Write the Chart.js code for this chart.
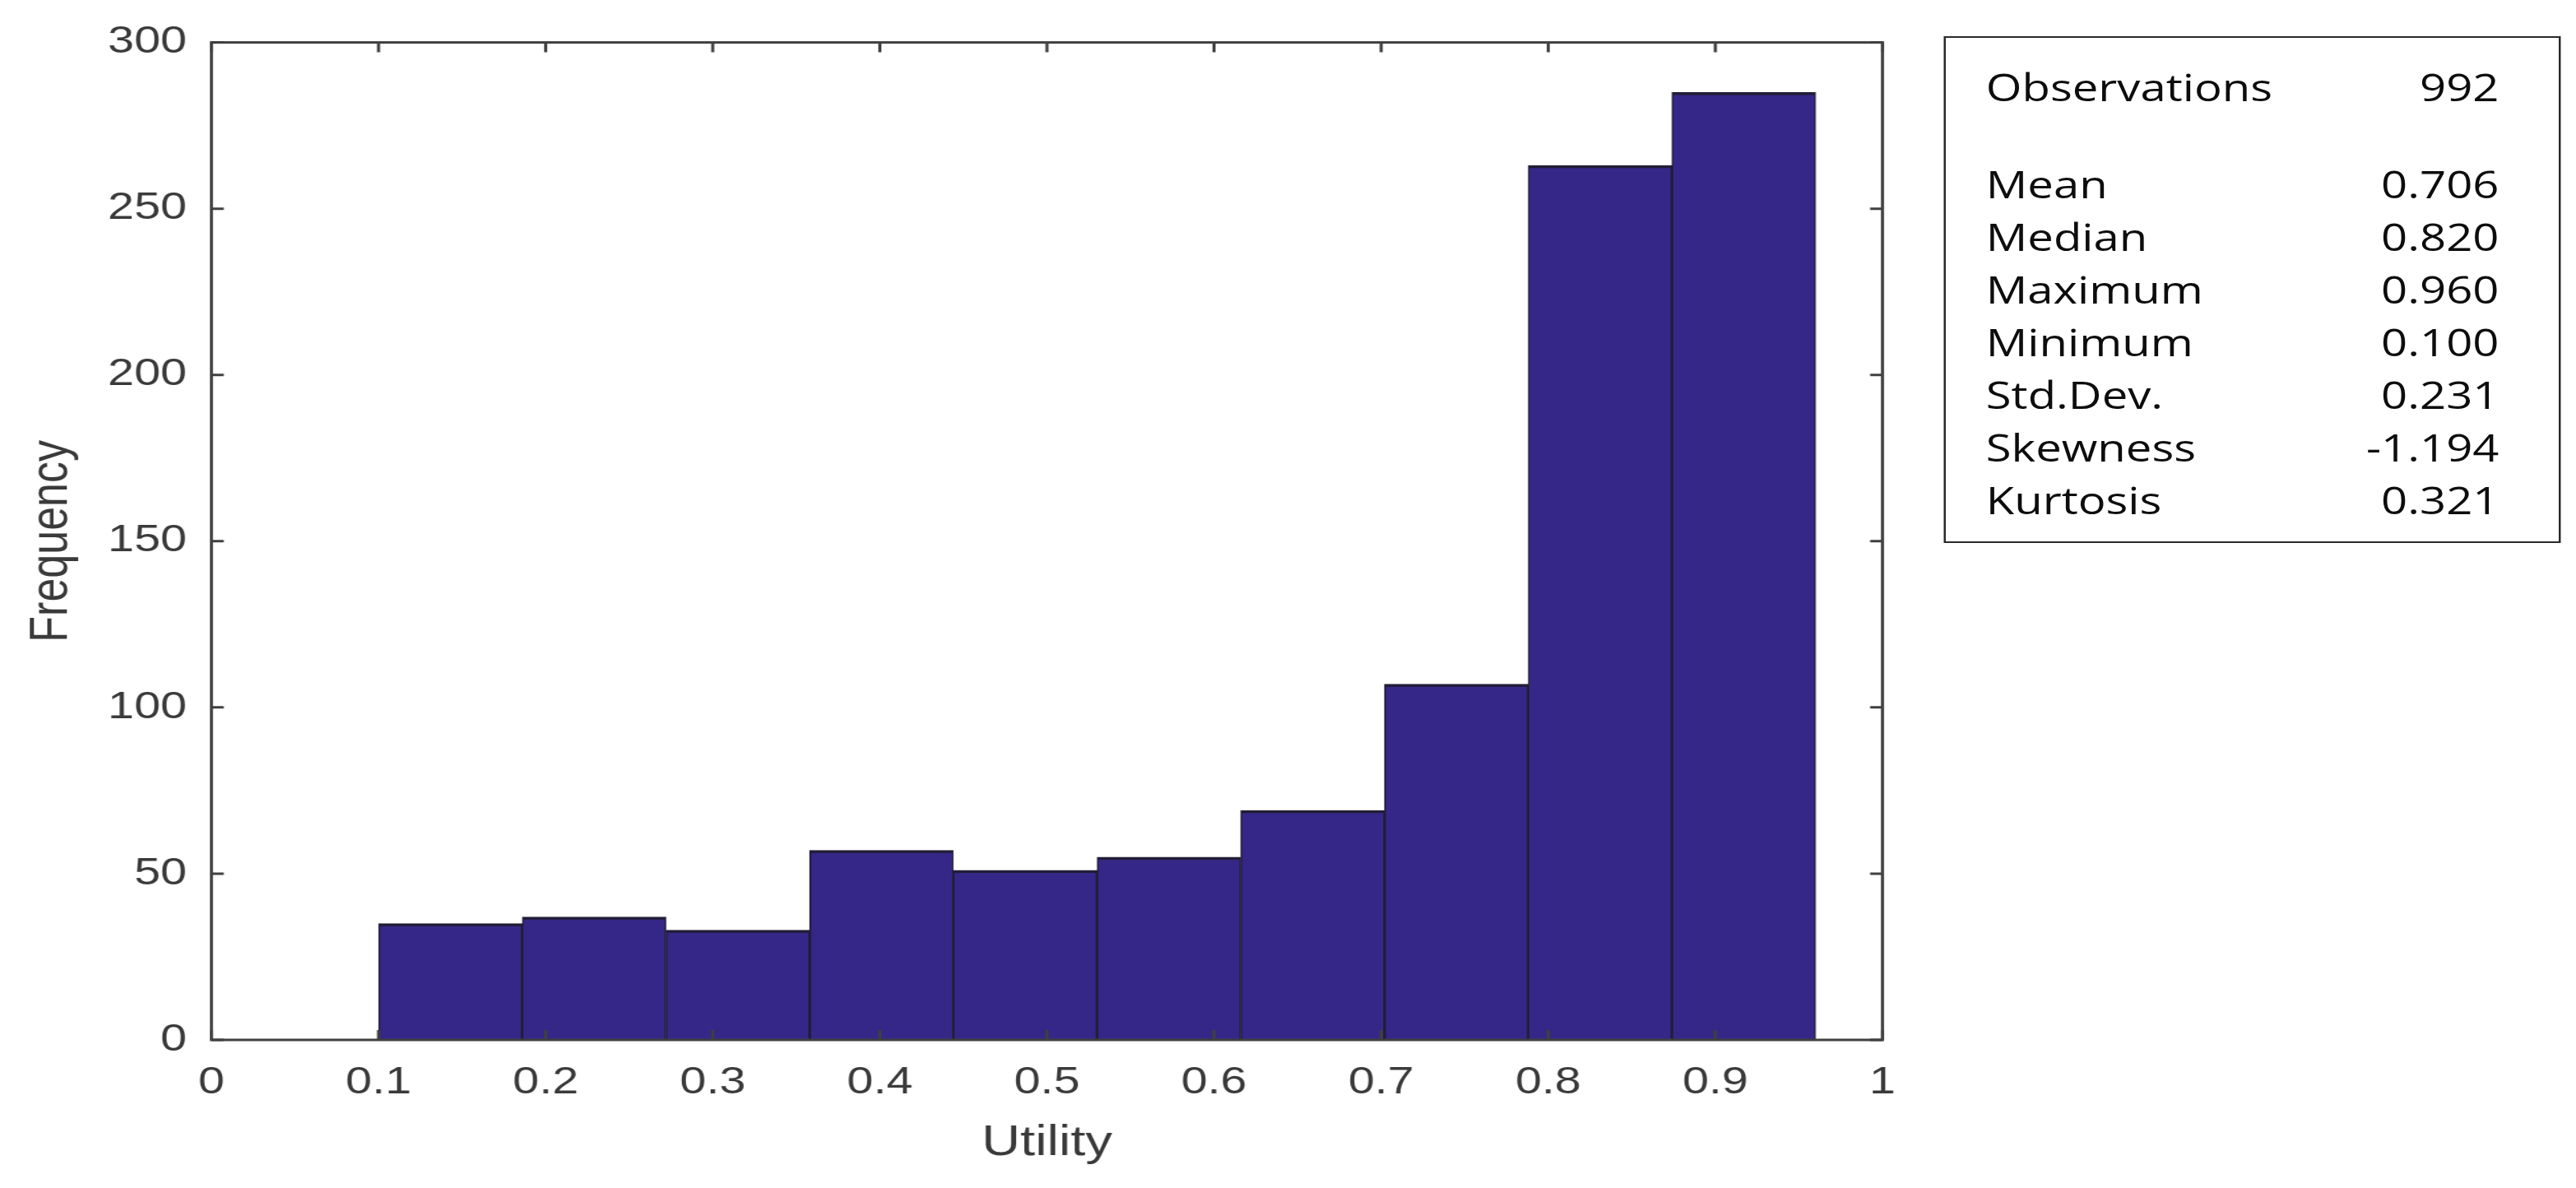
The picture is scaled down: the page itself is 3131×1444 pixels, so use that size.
<!DOCTYPE html>
<html>
<head>
<meta charset="utf-8">
<title>Utility histogram</title>
<script src="https://cdn.jsdelivr.net/npm/chart.js@4.4.1/dist/chart.umd.min.js"></script>
<style>
  html, body { margin: 0; padding: 0; background: #fff; overflow: hidden; }
  /* the source figure is stretched sideways, so the whole stage is too */
  #stage { position: absolute; left: 0; top: 0; width: 2505px; height: 1444px; transform: scaleX(1.25); transform-origin: 0 0; }
  #chart { position: absolute; left: 0; top: 0; width: 1880px; height: 1444px; }
  .stats {
    position: absolute; left: 1890px; top: 44px; width: 600px; height: 616px;
    box-sizing: border-box; border: 2px solid #2a2a2a; background: #fff;
    padding: 28px 58px 0 39px;
    font-family: 'Open Sans', sans-serif; font-size: 45px; color: #0d0d0d;
  }
  .stats .row { display: flex; justify-content: space-between; height: 64px; line-height: 64px; white-space: nowrap; }
  .stats .gap { height: 54px; }
</style>
</head>
<body>
<div id="stage">
  <canvas id="chart" width="1880" height="1444"></canvas>
  <div class="stats" id="stats"></div>
</div>
<script>
// ── Data ───────────────────────────────────────────────────
const binEdges = [0.1, 0.186, 0.272, 0.358, 0.444, 0.53, 0.616, 0.702, 0.788, 0.874, 0.96]
const binCounts = [35, 37, 33, 57, 51, 55, 69, 107, 263, 285]
const xTickValues = [0, 0.1, 0.2, 0.3, 0.4, 0.5, 0.6, 0.7, 0.8, 0.9, 1]
const xTickLabels = ['0', '0.1', '0.2', '0.3', '0.4', '0.5', '0.6', '0.7', '0.8', '0.9', '1']
const yTickValues = [0, 50, 100, 150, 200, 250, 300]
const statLabels = ['Observations', 'Mean', 'Median', 'Maximum', 'Minimum', 'Std.Dev.', 'Skewness', 'Kurtosis']
const statValues = ['992', '0.706', '0.820', '0.960', '0.100', '0.231', '-1.194', '0.321']

// ── Styles ─────────────────────────────────────────────────
const AXIS = '#404040'
const TEXT = '#3a3a3a'
const BAR = '#352787'
const BAR_EDGE = '#221d35'
const TICK_LEN = 12
const FONT = "'Liberation Sans', Arial, sans-serif"

// ── Stats box (plain text) ─────────────────────────────────
const stats = document.getElementById('stats')
statLabels.forEach((label, i) => {
  stats.insertAdjacentHTML('beforeend', `<div class="row"><span>${label}</span><span>${statValues[i]}</span></div>`)
  if (i === 0) stats.insertAdjacentHTML('beforeend', '<div class="gap"></div>')
})

// ── Box frame with inward ticks on all four sides ──────────
const frame = {
  id: 'frame',
  afterDatasetsDraw(chart) {
    const { ctx, chartArea: a, scales: { x, y } } = chart
    ctx.save()
    ctx.strokeStyle = AXIS
    ctx.lineWidth = 3
    ctx.beginPath()
    x.ticks.forEach((t) => {
      const px = x.getPixelForValue(t.value)
      ctx.moveTo(px, a.bottom); ctx.lineTo(px, a.bottom - TICK_LEN)
      ctx.moveTo(px, a.top); ctx.lineTo(px, a.top + TICK_LEN)
    })
    y.ticks.forEach((t) => {
      const py = y.getPixelForValue(t.value)
      ctx.moveTo(a.left, py); ctx.lineTo(a.left + TICK_LEN, py)
      ctx.moveTo(a.right, py); ctx.lineTo(a.right - TICK_LEN, py)
    })
    ctx.stroke()
    ctx.strokeRect(a.left, a.top, a.right - a.left, a.bottom - a.top)
    ctx.restore()
  },
}

// ── Histogram ──────────────────────────────────────────────
new Chart(document.getElementById('chart'), {
  type: 'bar',
  data: {
    datasets: [
      {
        label: 'Frequency',
        data: binCounts.map((c, i) => ({ x: (binEdges[i] + binEdges[i + 1]) / 2, y: c })),
        backgroundColor: BAR,
        borderColor: BAR_EDGE,
        borderWidth: { top: 3.5, left: 1.6, right: 1.6, bottom: 0 },
        borderSkipped: false,
        barPercentage: 1,
        categoryPercentage: 1,
      },
    ],
  },
  options: {
    responsive: false,
    devicePixelRatio: 1,
    animation: false,
    layout: { padding: { left: 0, top: 46, right: 49.6, bottom: 0 } },
    plugins: { legend: { display: false }, tooltip: { enabled: false } },
    scales: {
      x: {
        type: 'linear',
        min: 0,
        max: 1,
        offset: false,
        grid: { display: false, drawTicks: false, offset: false },
        border: { display: false },
        afterBuildTicks: (s) => { s.ticks = xTickValues.map((v) => ({ value: v })) },
        afterFit: (s) => { s.height = 180 },
        ticks: {
          padding: 25,
          color: TEXT,
          font: { family: FONT, size: 46 },
          maxRotation: 0,
          autoSkip: false,
          callback: (v, i) => xTickLabels[i],
        },
        title: {
          display: true,
          text: 'Utility',
          color: TEXT,
          font: { family: FONT, size: 52, lineHeight: 1 },
          padding: { top: 28, bottom: 28 },
        },
      },
      y: {
        min: 0,
        max: 300,
        grid: { display: false, drawTicks: false },
        border: { display: false },
        afterBuildTicks: (s) => { s.ticks = yTickValues.map((v) => ({ value: v })) },
        afterFit: (s) => { s.width = 205.6 },
        ticks: {
          padding: 24,
          color: TEXT,
          font: { family: FONT, size: 46 },
          callback: (v) => String(v),
        },
        title: {
          display: true,
          text: 'Frequency',
          color: TEXT,
          font: { family: FONT, size: 52, lineHeight: 1 },
          padding: { top: 25, bottom: 25 },
        },
      },
    },
  },
  plugins: [frame],
})
</script>
</body>
</html>
